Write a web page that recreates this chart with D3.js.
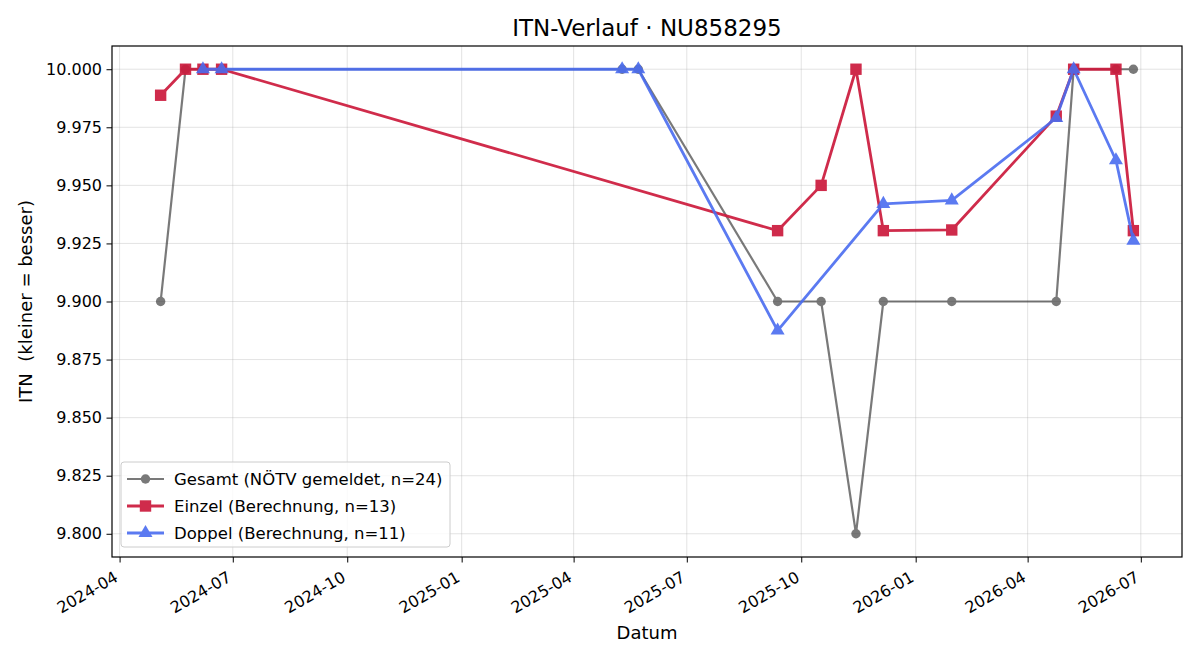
<!DOCTYPE html>
<html>
<head>
<meta charset="utf-8">
<script src="https://cdn.jsdelivr.net/npm/d3@7"></script>
<style>
  body { margin: 0; background: #fff; }
  svg text { font-family: "DejaVu Sans", sans-serif; fill: #000; white-space: pre; }
</style>
</head>
<body>
<svg id="chart" width="1200" height="660"></svg>
<script>
// data
var gesamtDates = ["2024-05-04","2024-05-24","2024-06-07","2024-06-22","2025-05-10","2025-05-23","2025-09-12","2025-10-17","2025-11-14","2025-12-06","2026-01-30","2026-04-24","2026-05-08","2026-06-11","2026-06-25"];
var gesamtValues = [9.900, 10.000, 10.000, 10.000, 10.000, 10.000, 9.900, 9.900, 9.800, 9.900, 9.900, 9.900, 10.000, 10.000, 10.000];

var einzelDates = ["2024-05-04","2024-05-24","2024-06-07","2024-06-22","2025-09-12","2025-10-17","2025-11-14","2025-12-06","2026-01-30","2026-04-24","2026-05-08","2026-06-11","2026-06-25"];
var einzelValues = [9.9888, 10.000, 10.000, 10.000, 9.9305, 9.950, 10.000, 9.9305, 9.9308, 9.9798, 10.000, 10.000, 9.9305];

var doppelDates = ["2024-06-07","2024-06-22","2025-05-10","2025-05-23","2025-09-12","2025-12-06","2026-01-30","2026-04-24","2026-05-08","2026-06-11","2026-06-25"];
var doppelValues = [10.000, 10.000, 10.000, 10.000, 9.8875, 9.9420, 9.9435, 9.9790, 10.000, 9.9608, 9.9262];

var xTicks = ["2024-04","2024-07","2024-10","2025-01","2025-04","2025-07","2025-10","2026-01","2026-04","2026-07"];
var yTicks = [9.800, 9.825, 9.850, 9.875, 9.900, 9.925, 9.950, 9.975, 10.000];

var parse = d3.timeParse("%Y-%m-%d");
var parseMonth = d3.timeParse("%Y-%m");

function zip(dates, values) {
  return dates.map(function(d, i) { return {date: parse(d), value: values[i]}; });
}

var series = [
  {name: "Gesamt (NÖTV gemeldet, n=24)", data: zip(gesamtDates, gesamtValues), color: "#333", opacity: 0.65, width: 2.2, shape: "circle"},
  {name: "Einzel (Berechnung, n=13)", data: zip(einzelDates, einzelValues), color: "#cc1a3c", opacity: 0.92, width: 2.8, shape: "square"},
  {name: "Doppel (Berechnung, n=11)", data: zip(doppelDates, doppelValues), color: "#4a6cf0", opacity: 0.9, width: 2.8, shape: "triangle"}
];

var svg = d3.select("#chart"),
    margin = {top: 46, right: 18, bottom: 103, left: 112},
    width = +svg.attr("width") - margin.left - margin.right,
    height = +svg.attr("height") - margin.top - margin.bottom;

var allData = series.reduce(function(a, s) { return a.concat(s.data); }, []);
var xExt = d3.extent(allData, function(d) { return d.date; });
var yExt = d3.extent(allData, function(d) { return d.value; });
var xPad = (xExt[1] - xExt[0]) * 0.05, yPad = (yExt[1] - yExt[0]) * 0.05;

var x = d3.scaleTime()
    .domain([new Date(+xExt[0] - xPad), new Date(+xExt[1] + xPad)])
    .range([0, width]);
var y = d3.scaleLinear()
    .domain([yExt[0] - yPad, yExt[1] + yPad])
    .range([height, 0]);

var g = svg.append("g")
    .attr("transform", "translate(" + margin.left + "," + margin.top + ")");

var xTickDates = xTicks.map(function(t) { return parseMonth(t); });

// grid
g.append("g").selectAll("line")
    .data(xTickDates)
  .enter().append("line")
    .attr("x1", function(d) { return x(d); }).attr("x2", function(d) { return x(d); })
    .attr("y1", 0).attr("y2", height)
    .attr("stroke", "#b0b0b0").attr("stroke-opacity", 0.35).attr("stroke-width", 1);
g.append("g").selectAll("line")
    .data(yTicks)
  .enter().append("line")
    .attr("y1", function(d) { return y(d); }).attr("y2", function(d) { return y(d); })
    .attr("x1", 0).attr("x2", width)
    .attr("stroke", "#b0b0b0").attr("stroke-opacity", 0.35).attr("stroke-width", 1);

// axes
var xAxis = g.append("g")
    .attr("transform", "translate(0," + height + ")")
    .call(d3.axisBottom(x).tickValues(xTickDates).tickFormat(d3.timeFormat("%Y-%m")).tickSizeOuter(0).tickSize(5.5));
xAxis.selectAll("text")
    .style("font-size", "16px")
    .attr("text-anchor", "end")
    .attr("dy", null)
    .attr("y", 0).attr("x", 0)
    .attr("dominant-baseline", "hanging")
    .attr("transform", "translate(-7,13) rotate(-30)");

var yAxis = g.append("g")
    .call(d3.axisLeft(y).tickValues(yTicks).tickFormat(d3.format(".3f")).tickSizeOuter(0).tickSize(5.5));
yAxis.selectAll("text").style("font-size", "16px").attr("x", -10);

svg.selectAll(".domain").remove();
svg.selectAll(".tick line").attr("stroke", "#000").attr("stroke-width", 1);

// frame
g.append("rect")
    .attr("width", width).attr("height", height)
    .attr("fill", "none").attr("stroke", "#000").attr("stroke-width", 1.2);

var line = d3.line()
    .x(function(d) { return x(d.date); })
    .y(function(d) { return y(d.value); });

var symbols = {circle: d3.symbolCircle, square: d3.symbolSquare, triangle: d3.symbolTriangle};
var symbolSize = {circle: 70, square: 130, triangle: 85};

series.forEach(function(s) {
  var sg = g.append("g").attr("opacity", s.opacity);
  sg.append("path")
      .datum(s.data)
      .attr("d", line)
      .attr("fill", "none")
      .attr("stroke", s.color)
      .attr("stroke-width", s.width)
      .attr("stroke-linejoin", "round");
  sg.selectAll(".pt")
      .data(s.data)
    .enter().append("path")
      .attr("transform", function(d) { return "translate(" + x(d.date) + "," + y(d.value) + ")"; })
      .attr("d", d3.symbol().type(symbols[s.shape]).size(symbolSize[s.shape]))
      .attr("fill", s.color);
});

// title and labels
svg.append("text")
    .attr("x", margin.left + width / 2).attr("y", 36)
    .attr("text-anchor", "middle")
    .style("font-size", "23px")
    .text("ITN-Verlauf · NU858295");

svg.append("text")
    .attr("x", margin.left + width / 2).attr("y", 639)
    .attr("text-anchor", "middle")
    .style("font-size", "18px")
    .text("Datum");

svg.append("text")
    .attr("transform", "translate(32," + (margin.top + height / 2) + ") rotate(-90)")
    .attr("text-anchor", "middle")
    .style("font-size", "18px")
    .text("ITN  (kleiner = besser)");

// legend
var legend = g.append("g").attr("transform", "translate(9," + (height - 95) + ")");
legend.append("rect")
    .attr("width", 329).attr("height", 85).attr("rx", 3)
    .attr("fill", "#fff").attr("fill-opacity", 0.8)
    .attr("stroke", "#ccc").attr("stroke-width", 1);

series.forEach(function(s, i) {
  var ly = 17 + i * 27;
  var lg = legend.append("g").attr("opacity", s.opacity);
  lg.append("line")
      .attr("x1", 6).attr("x2", 43).attr("y1", ly).attr("y2", ly)
      .attr("stroke", s.color).attr("stroke-width", s.width);
  lg.append("path")
      .attr("transform", "translate(24.5," + ly + ")")
      .attr("d", d3.symbol().type(symbols[s.shape]).size(symbolSize[s.shape]))
      .attr("fill", s.color);
  legend.append("text")
      .attr("x", 53).attr("y", ly + 6)
      .style("font-size", "16.5px")
      .text(s.name);
});
</script>
</body>
</html>
